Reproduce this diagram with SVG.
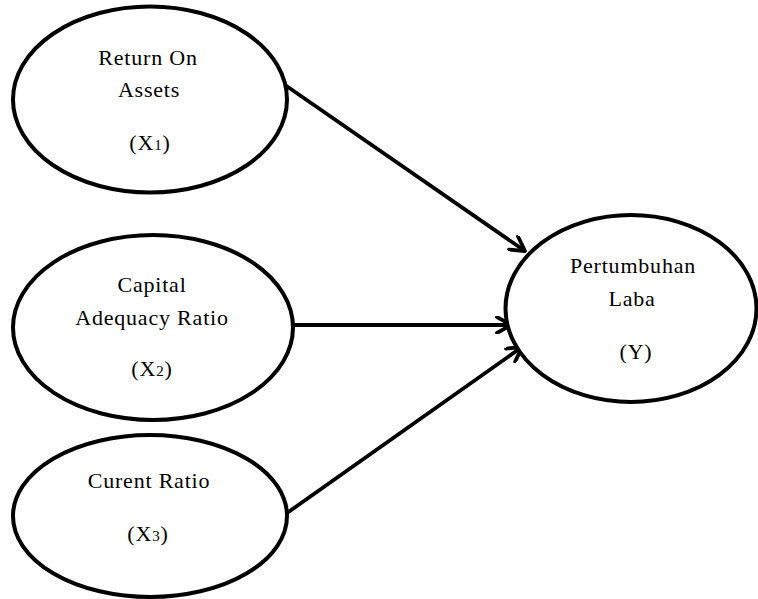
<svg xmlns="http://www.w3.org/2000/svg" width="758" height="599" viewBox="0 0 758 599">
<style>
.node ellipse{fill:#fff;stroke:#000;stroke-width:4}
.node text{font-family:"Liberation Serif","Times New Roman",serif;font-size:22px;fill:#000;text-anchor:middle;letter-spacing:0.8px}
.sub{font-size:15px}
.edge{fill:none;stroke:#000;stroke-width:3.8}
</style>
<defs>
<marker id="arr" viewBox="0 0 18 18" markerWidth="18" markerHeight="18" refX="16" refY="9" orient="auto" markerUnits="userSpaceOnUse">
<path d="M2,1 L16,9 L2,17" fill="none" stroke="#000" stroke-width="3.8" stroke-linecap="round" stroke-linejoin="round"/>
</marker>
</defs>
<rect width="758" height="599" fill="#fff"/>
<g id="connectors">
<path class="edge" d="M285,85 L525,251" marker-end="url(#arr)"/>
<path class="edge" d="M293,325 L511,325" marker-end="url(#arr)"/>
<path class="edge" d="M287,513 L522,347" marker-end="url(#arr)"/>
</g>
<g id="x1" class="node">
<ellipse cx="150" cy="99.5" rx="137" ry="93"/>
<text x="148" y="65">Return On</text>
<text x="149" y="97">Assets</text>
<text x="150" y="150">(X<tspan class="sub">1</tspan>)</text>
</g>
<g id="x2" class="node">
<ellipse cx="153" cy="327.5" rx="140" ry="92.5"/>
<text x="152" y="292">Capital</text>
<text x="152" y="325">Adequacy Ratio</text>
<text x="152" y="376">(X<tspan class="sub">2</tspan>)</text>
</g>
<g id="x3" class="node">
<ellipse cx="150" cy="516" rx="137" ry="81"/>
<text x="149" y="488">Curent Ratio</text>
<text x="148" y="541">(X<tspan class="sub">3</tspan>)</text>
</g>
<g id="y" class="node">
<ellipse cx="631" cy="308.5" rx="125.5" ry="93.5"/>
<text x="633" y="273">Pertumbuhan</text>
<text x="632" y="306">Laba</text>
<text x="636" y="359">(Y)</text>
</g>
</svg>
